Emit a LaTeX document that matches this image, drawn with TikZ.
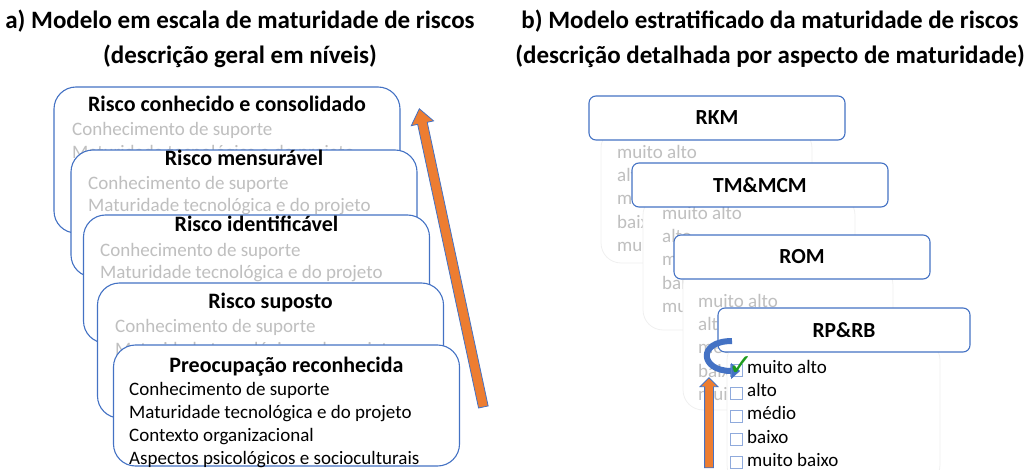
\documentclass[tikz,border=0pt]{standalone}
\usepackage{fontspec}
\setmainfont{Carlito}
\newfontfamily\symbfont{DejaVu Sans}
\usetikzlibrary{positioning,shapes.arrows,arrows.meta}

\definecolor{boxblue}{HTML}{4472C4}
\definecolor{arroworange}{HTML}{ED7D31}
\definecolor{fadetext}{HTML}{BFBFBF}
\definecolor{fadeline}{HTML}{F0F0F0}
\definecolor{tickblue}{HTML}{8FAADC}
\definecolor{checkgreen}{HTML}{1E9B1E}

\tikzset{
  heading/.style={font=\bfseries\fontsize{25}{30}\selectfont, anchor=base, inner sep=0pt},
  levelbox/.style={draw=boxblue, line width=1.1pt, fill=white, rounded corners=22pt, minimum width=346pt},
  levelname/.style={font=\bfseries\fontsize{22}{26}\selectfont, anchor=base, inner sep=0pt},
  levelitem/.style={font=\fontsize{19}{23}\selectfont, anchor=base west, inner sep=0pt, text=fadetext},
  layerback/.style={draw=fadeline, line width=0.8pt, fill=white, rounded corners=20pt},
  layerhead/.style={draw=boxblue, line width=1.1pt, fill=white, rounded corners=7pt,
    minimum width=256pt, minimum height=44pt, font=\bfseries\fontsize{21.5}{26}\selectfont},
  fadeitem/.style={font=\fontsize{19}{23}\selectfont, anchor=base west, inner sep=0pt, text=fadetext},
  tickbox/.style={draw=tickblue, line width=0.8pt, minimum size=12pt, inner sep=0pt},
  bigarrow/.style={single arrow, draw=boxblue, line width=0.8pt, fill=arroworange,
    inner xsep=0pt, sloped, allow upside down},
  curl/.style={draw=boxblue, line width=6pt, -{Triangle[length=9pt,width=16pt,line width=0.6pt]}},
}

\begin{document}
\begin{tikzpicture}[x=1pt, y=-1pt]
\useasboundingbox (0,0) rectangle (1024,470);

% headings
\node[heading] (headA1) at (240,29) {a) Modelo em escala de maturidade de riscos};
\node[heading] (headA2) at (240,64) {(descrição geral em níveis)};
\node[heading] (headB1) at (770,29) {b) Modelo estratificado da maturidade de riscos};
\node[heading] (headB2) at (770,64) {(descrição detalhada por aspecto de maturidade)};

% a) levels, top level first so the lower ones lie over it
\node[levelbox, minimum height=146pt] (lvA) at (227,160) {};
\node[levelname] (lvAname) at (227,112) {Risco conhecido e consolidado};
\node[levelitem] (lvAi) at (72,136) {Conhecimento de suporte};
\node[levelitem] (lvAii) at (72,159) {Maturidade tecnológica e do projeto};

\node[levelbox, minimum height=127pt] (lvB) at (244,213.5) {};
\node[levelname] (lvBname) at (244,166) {Risco mensurável};
\node[levelitem] (lvBi) at (88,190) {Conhecimento de suporte};
\node[levelitem] (lvBii) at (88,212) {Maturidade tecnológica e do projeto};

\node[levelbox, minimum height=128pt] (lvC) at (256.5,279) {};
\node[levelname] (lvCname) at (256.5,232) {Risco identificável};
\node[levelitem] (lvCi) at (100,256) {Conhecimento de suporte};
\node[levelitem] (lvCii) at (100,278) {Maturidade tecnológica e do projeto};

\node[levelbox, minimum height=135pt] (lvD) at (270.5,350.5) {};
\node[levelname] (lvDname) at (270.5,308) {Risco suposto};
\node[levelitem] (lvDi) at (115,332) {Conhecimento de suporte};
\node[levelitem] (lvDii) at (115,355) {Maturidade tecnológica e do projeto};

\node[levelbox, minimum height=121pt] (lvE) at (286.5,405.5) {};
\node[levelname] (lvEname) at (286.5,372) {Preocupação reconhecida};
\node[levelitem, text=black] (lvEi) at (129,395) {Conhecimento de suporte};
\node[levelitem, text=black] (lvEii) at (129,418) {Maturidade tecnológica e do projeto};
\node[levelitem, text=black] (lvEiii) at (129,441) {Contexto organizacional};
\node[levelitem, text=black] (lvEiv) at (129,464) {Aspectos psicológicos e socioculturais};

\coordinate (lvArrowTail) at (484,410);
\coordinate (lvArrowTip) at (420,112);
\path (lvArrowTail) -- node[bigarrow, minimum height=305pt, inner ysep=4.5pt,
  single arrow head extend=6.5pt, single arrow tip angle=75] (lvArrow) {} (lvArrowTip);

% b) layers
\node[layerback, minimum width=211pt, minimum height=135pt] (rkmBack) at (706.5,195.5) {};
\foreach \w [count=\k] in {muito alto,alto,médio,baixo,muito baixo}
  \node[fadeitem] (rkm\k) at (617,{158.5+23.2*(\k-1)}) {\w};
\node[layerhead] (rkm) at (717,118) {RKM};

\node[layerback, minimum width=212pt, minimum height=135pt] (tmBack) at (749,262.5) {};
\foreach \w [count=\k] in {muito alto,alto,médio,baixo,muito baixo}
  \node[fadeitem] (tm\k) at (662,{219.5+23.2*(\k-1)}) {\w};
\node[layerhead] (tm) at (760,185) {TM\&MCM};

\node[layerback, minimum width=210pt, minimum height=145pt] (romBack) at (788,337.5) {};
\foreach \w [count=\k] in {muito alto,alto,médio,baixo,muito baixo}
  \node[fadeitem] (rom\k) at (698,{307.5+23.2*(\k-1)}) {\w};
\node[layerhead] (rom) at (802,257) {ROM};

\node[layerback, minimum width=213pt, minimum height=145pt] (rpBack) at (833.5,412.5) {};
\foreach \w [count=\k] in {muito alto,alto,médio,baixo,muito baixo}{
  \node[fadeitem, text=black] (rp\k) at (747,{373.5+23.2*(\k-1)}) {\w};
  \node[tickbox] (rpBox\k) at (736.5,{370+23.2*(\k-1)}) {};
}
\node[layerhead, minimum width=252pt] (rp) at (844,330) {RP\&RB};

\coordinate (curlStart) at (732,341);
\coordinate (curlEnd) at (740,371);
\draw[curl] (curlStart) .. controls (697,341) and (700,371) .. (curlEnd);

\node[text=checkgreen, inner sep=0pt] (tick) at (741,366) {\symbfont\fontsize{30}{32}\selectfont ✓};

\coordinate (rpArrowTail) at (709,470);
\coordinate (rpArrowTip) at (709,380);
\path (rpArrowTail) -- node[bigarrow, minimum height=90pt, inner ysep=4pt,
  single arrow head extend=4.5pt, single arrow tip angle=90] (rpArrow) {} (rpArrowTip);
\end{tikzpicture}
\end{document}
